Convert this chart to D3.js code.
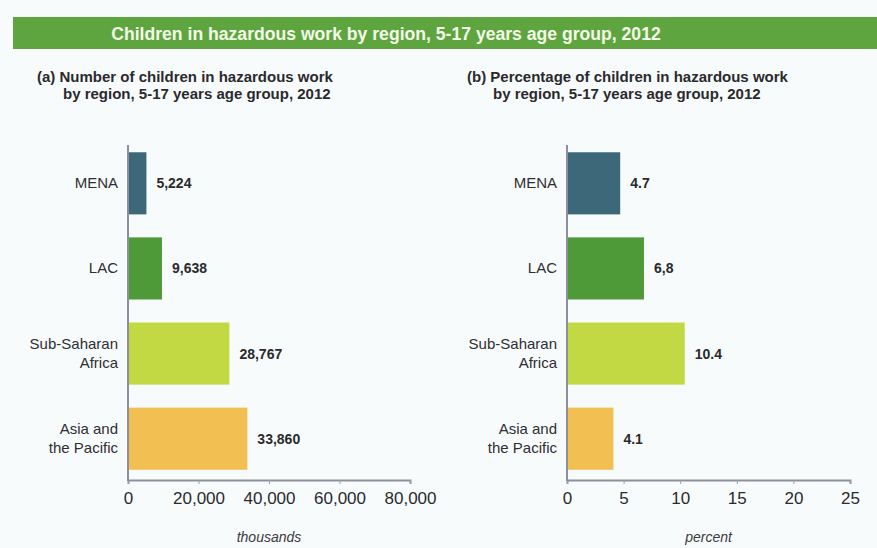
<!DOCTYPE html>
<html>
<head>
<meta charset="utf-8">
<script src="https://cdn.jsdelivr.net/npm/d3@7"></script>
<style>
  body { margin: 0; background: #f8fbfb; }
  svg { display: block; font-family: "Liberation Sans Narrow", "Liberation Sans", Arial, sans-serif; }
</style>
</head>
<body>
<svg id="chart" width="877" height="548"></svg>
<script>
// data
var regions = ["MENA", "LAC", "Sub-Saharan Africa", "Asia and the Pacific"];
var regionLines = [["MENA"], ["LAC"], ["Sub-Saharan", "Africa"], ["Asia and", "the Pacific"]];
var colors = ["#3d6879", "#4e9a38", "#c3d943", "#f1bf52"];
var children = [5224, 9638, 28767, 33860];
var childrenLabels = ["5,224", "9,638", "28,767", "33,860"];
var percent = [4.7, 6.8, 10.4, 4.1];
var percentLabels = ["4.7", "6,8", "10.4", "4.1"];
var childrenTicks = [0, 20000, 40000, 60000, 80000];
var percentTicks = [0, 5, 10, 15, 20, 25];

var svg = d3.select("#chart");

// green title band
svg.append("rect")
  .attr("x", 13).attr("y", 17)
  .attr("width", 877 - 13).attr("height", 32)
  .attr("fill", "#5fa53f");
svg.append("text")
  .attr("x", 386).attr("y", 40)
  .attr("text-anchor", "middle")
  .attr("fill", "#f4fbe9")
  .attr("font-size", 17.6).attr("font-weight", "bold")
  .text("Children in hazardous work by region, 5-17 years age group, 2012");

function panel(opts) {
  var g = svg.append("g");

  g.append("text")
    .attr("x", opts.titleX).attr("y", 82)
    .attr("font-size", 15).attr("font-weight", "bold").attr("fill", "#2a2a2e")
    .text(opts.title1);
  g.append("text")
    .attr("x", opts.titleX + 26).attr("y", 99)
    .attr("font-size", 15).attr("font-weight", "bold").attr("fill", "#2a2a2e")
    .text(opts.title2);

  var x = d3.scaleLinear().domain(opts.domain).range([opts.x0, opts.x1]);
  var y = d3.scaleBand().domain(regions).range([148, 474]).paddingInner(0.27).paddingOuter(0.05);

  g.selectAll("rect.bar")
    .data(opts.values)
    .enter()
    .append("rect")
    .attr("class", "bar")
    .attr("x", x(0))
    .attr("y", function(d, i) { return y(regions[i]); })
    .attr("width", function(d) { return x(d) - x(0); })
    .attr("height", y.bandwidth())
    .attr("fill", function(d, i) { return colors[i]; });

  g.selectAll("text.val")
    .data(opts.values)
    .enter()
    .append("text")
    .attr("class", "val")
    .attr("x", function(d) { return x(d) + 10; })
    .attr("y", function(d, i) { return y(regions[i]) + y.bandwidth() / 2 + 5; })
    .attr("font-size", 14).attr("font-weight", "bold").attr("fill", "#2a2a2e")
    .style("font-family", "'Liberation Sans', Arial, sans-serif")
    .text(function(d, i) { return opts.labels[i]; });

  // category labels
  var cat = g.selectAll("text.cat")
    .data(regionLines)
    .enter()
    .append("text")
    .attr("class", "cat")
    .attr("text-anchor", "end")
    .attr("font-size", 15).attr("fill", "#2e2e34")
    .style("font-family", "'Liberation Sans', Arial, sans-serif")
    .attr("y", function(d, i) { return y(regions[i]) + y.bandwidth() / 2 + 5 - (d.length - 1) * 9.5; });
  cat.selectAll("tspan")
    .data(function(d) { return d; })
    .enter()
    .append("tspan")
    .attr("x", x(0) - 10)
    .attr("dy", function(d, j) { return j ? 19 : 0; })
    .text(function(d) { return d; });

  // axes
  var axis = g.append("g")
    .attr("transform", "translate(0,480)")
    .call(d3.axisBottom(x).tickValues(opts.ticks).tickSize(4).tickPadding(8).tickFormat(opts.fmt));
  axis.select(".domain").attr("stroke", "#8d909c").attr("stroke-width", 2);
  axis.selectAll(".tick line").attr("stroke", "#9a9ca6");
  axis.selectAll(".tick text")
    .attr("font-size", 17).attr("fill", "#2a2a2e")
    .style("font-family", "'Liberation Sans', Arial, sans-serif");

  g.append("line")
    .attr("x1", x(0)).attr("x2", x(0))
    .attr("y1", 145).attr("y2", 481)
    .attr("stroke", "#8d909c").attr("stroke-width", 2);

  g.append("text")
    .attr("x", (opts.x0 + opts.x1) / 2).attr("y", 542)
    .attr("text-anchor", "middle")
    .attr("font-size", 14).attr("font-style", "italic").attr("fill", "#3a3a40")
    .style("font-family", "'Liberation Sans', Arial, sans-serif")
    .text(opts.unit);
}

panel({
  title1: "(a) Number of children in hazardous work",
  title2: "by region, 5-17 years age group, 2012",
  titleX: 37,
  domain: [0, 80000], x0: 128, x1: 410,
  values: children, labels: childrenLabels,
  ticks: childrenTicks, fmt: d3.format(","),
  unit: "thousands"
});

panel({
  title1: "(b) Percentage of children in hazardous work",
  title2: "by region, 5-17 years age group, 2012",
  titleX: 467,
  domain: [0, 25], x0: 567, x1: 850,
  values: percent, labels: percentLabels,
  ticks: percentTicks, fmt: d3.format("d"),
  unit: "percent"
});
</script>
</body>
</html>
